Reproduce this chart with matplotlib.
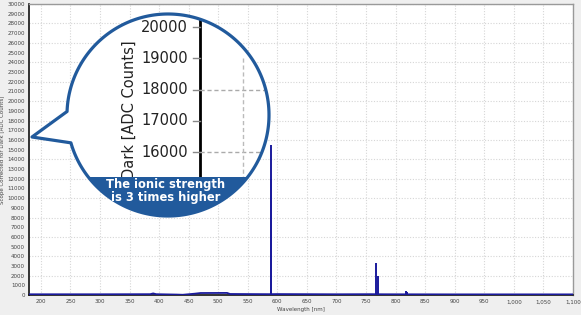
import numpy as np
import matplotlib.pyplot as plt
from matplotlib.patches import Circle, Polygon
from matplotlib.ticker import FuncFormatter

# spectrum lines (nm, counts)
peak_wl = [404.5, 588.9, 589.6, 766.5, 769.9, 818.3, 819.5]
peak_counts = [150, 15500, 12000, 3300, 2000, 450, 300]

# baseline
base_wl = [180, 300, 385, 390, 395, 430, 440, 460, 470, 515, 520, 585, 600, 700, 760, 780, 900, 1100]
base_counts = [90, 90, 100, 180, 100, 60, 40, 150, 220, 230, 120, 100, 110, 90, 100, 90, 80, 80]

# zoomed axis inside the callout
zoom_ticks = [20000, 19000, 18000, 17000, 16000]
zoom_grid = [18000, 16000]
callout_text = "The ionic strength\nis 3 times higher"

fig = plt.figure(figsize=(5.81, 3.15), dpi=100)
fig.patch.set_facecolor('#efefef')
ax = fig.add_axes([0.050, 0.063, 0.936, 0.924])
ax.set_facecolor('white')
ax.set_xlim(180, 1100)
ax.set_ylim(0, 30000)

for y in np.arange(2000, 30001, 2000):
    ax.axhline(y, color='#d6d6d6', lw=0.8, ls=(0, (1, 1.5)), zorder=0)
for x in np.arange(200, 1101, 50):
    ax.axvline(x, color='#d6d6d6', lw=0.8, ls=(0, (1, 1.5)), zorder=0)

ax.plot(base_wl, base_counts, color='#1a1a9c', lw=1.3, zorder=3)
ax.vlines(peak_wl, 0, peak_counts, color='#1a1a9c', lw=1.4, zorder=3)

ax.set_xticks(np.arange(200, 1101, 50))
ax.set_yticks(np.arange(0, 30001, 1000))
ax.xaxis.set_major_formatter(FuncFormatter(lambda v, p: '{:,.0f}'.format(v)))
ax.tick_params(labelsize=4, colors='#444444', length=0, pad=3)
ax.set_xlabel('Wavelength [nm]', fontsize=4, color='#444444', labelpad=2)
ax.set_ylabel('Scope Corrected for Dark [ADC Counts]', fontsize=4, color='#444444', labelpad=2)
for s in ['left', 'bottom']:
    ax.spines[s].set_color('#111111')
    ax.spines[s].set_linewidth(1.2)
for s in ['top', 'right']:
    ax.spines[s].set_color('#999999')
    ax.spines[s].set_linewidth(1.0)

# callout overlay in pixel coordinates
ov = fig.add_axes([0, 0, 1, 1], zorder=5)
ov.set_xlim(0, 581)
ov.set_ylim(315, 0)
ov.axis('off')
ov.patch.set_alpha(0)

cx, cy, r = 168, 115, 101
blue = '#215a9c'
t = np.radians(np.linspace(182, 524, 300))
outline = np.column_stack([cx + r * np.cos(t), cy + r * np.sin(t)])
outline = np.vstack([outline, [[32, 137]]])
ov.add_patch(Polygon(outline, closed=True, facecolor='white', edgecolor='none', zorder=1))

clip = Circle((cx, cy), r, transform=ov.transData, facecolor='none', edgecolor='none')
ov.add_patch(clip)

# zoomed axis: 1000 counts ~ 31.3 px, 20000 at y=27
def zy(v):
    return 27 + (20000 - v) / 1000 * 31.3

items = []
items.append(ov.plot([200, 200], [20, 180], color='black', lw=2, zorder=2)[0])
for v in zoom_ticks:
    items.append(ov.plot([193, 200], [zy(v), zy(v)], color='#888888', lw=1, zorder=2)[0])
    ov.text(188, zy(v), f'{v}', fontsize=10.5, color='#222222', ha='right', va='center', zorder=2)
for v in zoom_grid:
    items.append(ov.plot([200, 280], [zy(v), zy(v)], color='#aaaaaa', lw=1, ls=(0, (3, 2)), zorder=2)[0])
items.append(ov.plot([243, 243], [zy(19000), 180], color='#bbbbbb', lw=1, ls=(0, (3, 2)), zorder=2)[0])
items.append(ov.text(129, 179, 'Dark [ADC Counts]', fontsize=10.5, color='#222222', rotation=90,
                     ha='center', va='bottom', zorder=2))
for it in items:
    it.set_clip_path(clip)

# blue band at the bottom of the bubble
y0 = 177
a0 = np.degrees(np.arcsin((y0 - cy) / r))
tb = np.radians(np.linspace(a0, 180 - a0, 100))
band = np.column_stack([cx + r * np.cos(tb), cy + r * np.sin(tb)])
ov.add_patch(Polygon(band, closed=True, facecolor=blue, edgecolor='none', zorder=3))

ov.add_patch(Polygon(outline, closed=True, facecolor='none', edgecolor=blue, lw=2.3,
                     joinstyle='round', zorder=4))
ov.text(166, 191, callout_text, fontsize=8.3, fontweight='bold', color='white',
        ha='center', va='center', linespacing=0.95, zorder=5)

fig.savefig('out.png', dpi=100, facecolor=fig.get_facecolor())
